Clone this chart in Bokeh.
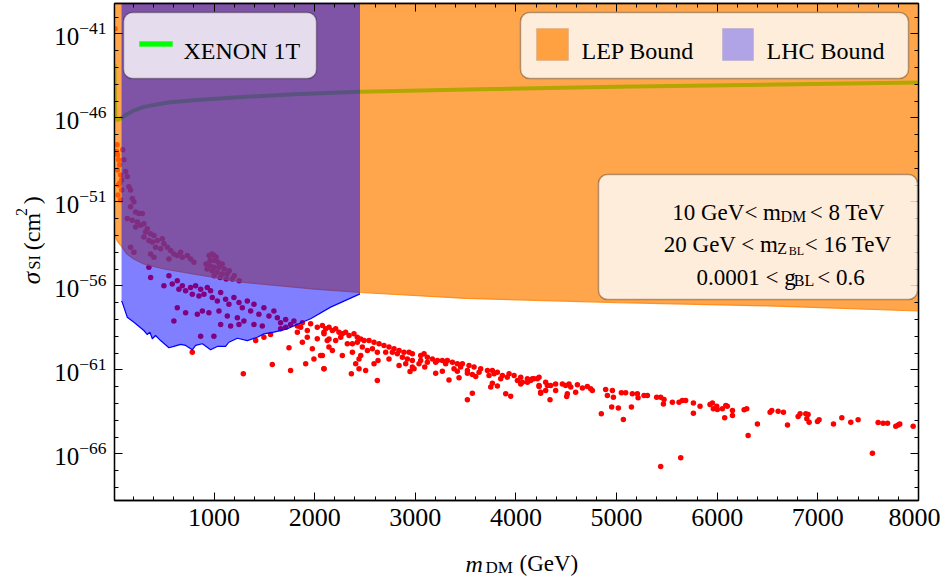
import numpy as np
from bokeh.plotting import figure
from bokeh.layouts import row, column
from bokeh.models import (FixedTicker, Range1d, LinearAxis, LogAxis, BoxAnnotation,
                          Label, CustomJSTickFormatter)
from bokeh.embed import file_html
from bokeh.resources import INLINE

FONT = "Liberation Serif"

# ---------------- data (m_DM in GeV, log10 of sigma_SI in cm^2) ----------------
x_ticks = [1000, 2000, 3000, 4000, 5000, 6000, 7000, 8000]
y_tick_exponents = [-41, -46, -51, -56, -61, -66]

# XENON 1T limit
xenon_m = [10, 12, 15, 20, 30, 50, 80, 130, 200, 300, 540, 800, 1200, 1800, 2450, 3640, 5000, 8000]
xenon_log = [-42.8, -44.2, -45.3, -45.9, -46.15, -46.1, -46.0, -45.8, -45.57, -45.35, -45.09,
             -44.95, -44.79, -44.6, -44.45, -44.3, -44.15, -43.9]

# LEP bound: excluded region above this curve
lep_m = [10, 25, 50, 80, 130, 200, 300, 500, 800, 1300, 2000, 2450, 3500, 5000, 6500, 8000]
lep_log = [-52.7, -53.2, -53.45, -53.65, -54.1, -54.4, -54.7, -55.0, -55.3, -55.8, -56.2, -56.4,
           -56.75, -57.0, -57.2, -57.5]

# LHC bound: excluded region above this curve for 80 GeV < m_DM < 2450 GeV
lhc_m = [80, 87, 103, 137, 203, 302, 336, 362, 386, 418, 468, 551, 600, 667, 717, 783, 816, 883,
         965, 1032, 1114, 1147, 1231, 1330, 1429, 1495, 1594, 1728, 1959, 2158, 2450]
lhc_log = [-56.9, -56.98, -57.27, -57.87, -58.17, -58.66, -58.90, -58.76, -59.15, -58.96, -59.26,
           -59.69, -59.61, -59.49, -59.55, -59.81, -59.55, -59.45, -59.81, -59.61, -59.61, -59.36,
           -59.12, -59.26, -59.06, -58.86, -58.76, -58.56, -57.96, -57.27, -56.48]

# scan points (m_DM, log10 sigma)
pts_low = [(15, -40.7), (35, -47.6), (30, -48.0), (91, -47.9), (41, -48.2), (51, -48.5), (61, -48.8),
           (41, -49.1), (71, -49.4), (81, -49.7), (51, -50.0), (60, -49.9), (81, -50.3), (45, -50.6),
           (70, -50.9)]
pts_upper = [(103, -48.5), (120, -49.2), (137, -49.5), (153, -50.1), (170, -50.3), (187, -50.8),
             (203, -51.0), (170, -51.3), (220, -51.6), (252, -51.7), (286, -51.7), (137, -52.0),
             (187, -52.1), (237, -52.2), (269, -52.4), (302, -52.3), (336, -52.6), (220, -52.5),
             (319, -52.8), (369, -52.9), (402, -53.0), (302, -53.1), (352, -53.3), (386, -53.4),
             (435, -53.3), (485, -53.2), (501, -53.5), (418, -53.7), (468, -53.8), (535, -53.7),
             (568, -53.9), (170, -53.7), (203, -54.0), (369, -54.1), (402, -54.3), (600, -54.1),
             (634, -54.2), (667, -54.0), (684, -54.3), (734, -54.2), (766, -54.4), (551, -54.4),
             (799, -54.6), (352, -54.9)]
pts_cluster = [(950, -54.2), (980, -54.1), (1000, -54.2), (1020, -54.3), (960, -54.5), (1000, -54.5),
               (1040, -54.6), (1080, -54.7), (920, -54.7), (960, -54.8), (1000, -54.9), (1050, -54.9),
               (1100, -55.0), (1150, -55.1), (930, -55.0), (980, -55.1), (1030, -55.2), (1080, -55.3),
               (1130, -55.3), (1200, -55.4), (1000, -55.4), (1060, -55.5), (1120, -55.6),
               (1180, -55.6), (1250, -55.7)]
pts_mid = [(369, -55.5), (501, -56.0), (551, -55.4), (584, -55.9), (634, -55.7), (650, -56.2),
           (684, -56.0), (717, -56.3), (766, -56.1), (783, -56.5), (816, -56.0), (849, -56.6),
           (866, -56.2), (899, -56.5), (932, -56.1), (965, -56.3), (982, -56.7), (1032, -56.9),
           (1065, -56.4), (1114, -56.8), (1147, -57.1), (1197, -56.7), (1247, -57.0), (1280, -57.3),
           (1330, -56.9), (1363, -57.5), (1396, -57.1), (1445, -57.7), (1495, -57.3), (1545, -57.8),
           (1594, -57.5), (1628, -57.9), (1661, -58.2), (1711, -58.0), (1760, -58.3), (1793, -58.1),
           (1827, -58.4), (1877, -58.2), (634, -57.3), (717, -57.6), (833, -57.7), (883, -57.5),
           (948, -57.6), (1048, -57.5), (1131, -57.8), (1231, -57.9), (1296, -58.1), (1396, -58.3),
           (1479, -58.4), (600, -58.1), (1065, -58.3), (1164, -58.4), (1247, -58.3), (866, -59.0),
           (998, -59.0)]
pts_knee = [(783, -59.95), (1413, -59.26), (1495, -59.06), (1561, -58.9), (1744, -59.69),
            (1578, -60.68), (1760, -61.04), (1290, -61.24), (1877, -59.36), (1910, -60.64),
            (1992, -60.35), (1976, -59.75), (2058, -60.15), (2091, -60.94), (1827, -58.76),
            (1926, -58.66), (1959, -58.26), (2025, -58.46), (2091, -58.76), (2124, -59.26),
            (2025, -59.15), (2141, -59.65), (1926, -59.06), (1860, -58.46), (1661, -58.56),
            (1711, -58.46)]
pts_band = [(2076, -58.36), (2109, -58.56), (2142, -58.46), (2175, -58.66), (2208, -58.56),
            (2241, -58.76), (2274, -58.86), (2307, -58.76), (2341, -58.96), (2390, -58.86),
            (2423, -59.06), (2457, -59.16), (2490, -59.26), (2539, -59.26), (2589, -59.36),
            (2639, -59.45), (2688, -59.55), (2738, -59.65), (2788, -59.75), (2838, -59.85),
            (2887, -59.95), (2937, -59.95), (2970, -60.05), (3053, -60.15), (3086, -60.05),
            (3119, -60.25), (3169, -60.35), (3219, -60.45), (3268, -60.45), (3318, -60.45),
            (3368, -60.55), (3417, -60.64), (3467, -60.64), (3533, -60.74), (3583, -60.84),
            (3649, -60.94), (3716, -61.04), (3765, -61.04), (3815, -61.14), (3865, -61.34),
            (3931, -61.24), (3981, -61.34), (4047, -61.44), (4113, -61.54), (4179, -61.54),
            (4229, -61.44),
            (2092, -58.86), (2142, -59.16), (2208, -59.26), (2258, -59.06), (2324, -59.45),
            (2374, -59.45), (2423, -59.36), (2473, -59.65), (2523, -59.85), (2573, -59.75),
            (2622, -59.95), (2705, -59.95), (2771, -59.95), (2821, -60.05), (2871, -60.25),
            (2920, -60.35), (2970, -60.45), (3053, -60.45), (3119, -60.55), (3202, -60.55),
            (3301, -60.64), (3384, -60.94), (3450, -60.84), (3517, -61.04), (3633, -61.14),
            (3732, -61.34), (3782, -61.24), (3848, -61.54), (3914, -61.44), (4014, -61.64),
            (4063, -61.74), (4146, -61.64)]
pts_band_low = [(2076, -60.15), (2092, -60.94), (2175, -59.85), (2274, -60.15), (2374, -59.95),
                (2407, -60.64), (2440, -60.35), (2457, -60.15), (2506, -61.04), (2440, -60.94),
                (2364, -61.24), (2589, -60.64), (2622, -61.64), (2629, -60.45), (2738, -60.35),
                (2838, -60.74), (2904, -60.64), (2947, -61.10), (2970, -60.84), (2987, -60.94),
                (3036, -60.64), (3093, -60.84), (3202, -61.20), (3268, -61.08), (3334, -61.60),
                (3417, -61.08), (3434, -61.48), (3517, -61.20), (3566, -61.28), (3600, -61.40),
                (3566, -62.39), (3517, -62.79), (3749, -62.03), (3765, -61.80), (3815, -61.97),
                (3898, -62.43), (3947, -62.57), (4047, -61.84), (4113, -61.74), (4229, -61.99),
                (4245, -62.39)]
pts_heavy = [(4163, -61.54), (4212, -61.54), (4229, -61.94), (4245, -62.33), (4295, -61.74),
             (4312, -61.94), (4295, -62.23), (4345, -61.94), (4394, -61.84), (4394, -62.23),
             (4338, -62.79), (4461, -61.84), (4494, -61.94), (4527, -61.84), (4544, -62.03),
             (4510, -62.43), (4504, -62.59), (4593, -62.33), (4610, -61.89), (4660, -62.09),
             (4709, -61.99), (4742, -62.13), (4759, -62.23), (4848, -63.62), (4891, -62.17),
             (4958, -62.23), (4908, -62.53), (4968, -62.63), (4951, -63.22), (5017, -63.28),
             (5067, -63.96), (5047, -62.37), (5090, -62.37), (5147, -63.22), (5156, -62.43),
             (5206, -62.43), (5213, -62.67), (5272, -62.53), (5306, -62.53), (5398, -62.63),
             (5438, -62.63), (5471, -62.77), (5465, -63.03), (5554, -62.93), (5620, -62.93),
             (5653, -62.83), (5686, -62.83), (5763, -62.97), (5763, -63.58), (5829, -63.17),
             (5928, -63.07), (5952, -62.97), (5961, -63.32), (5995, -63.17), (6001, -63.36),
             (6051, -63.32), (6074, -63.86), (6100, -63.17), (5637, -66.24), (5438, -66.76)]
pts_tail = [(6085, -63.13), (6151, -63.42), (6151, -63.72), (6267, -63.38), (6293, -63.32),
            (6307, -64.91), (6399, -64.22), (6525, -63.52), (6542, -63.42), (6605, -63.46),
            (6658, -63.52), (6698, -64.28), (6804, -63.78), (6823, -63.62), (6880, -63.62),
            (6903, -63.66), (6890, -63.92), (6913, -64.12), (6996, -64.08), (7012, -63.98),
            (7155, -64.22), (7238, -63.86), (7327, -64.12), (7400, -63.98), (7542, -65.96),
            (7599, -64.14), (7648, -64.18), (7692, -64.18), (7774, -64.36), (7798, -64.28),
            (7814, -64.22), (7947, -64.36)]

legend_names = ["XENON 1T", "LEP Bound", "LHC Bound"]

# ---------------- page geometry (absolute page px) ----------------
W, H = 940, 576
YL_W = 45            # width of the strip holding the rotated y title
XL_H = 36            # height of the strip holding the x title
X0, X1, FL, FR = 10.0, 8000.0, 114.0, 918.0
FT, FB = 3.0, 500.0
def X(sx):
    return X0 + (sx - FL) * (X1 - X0) / (FR - FL)
def Y(sy):
    return 10.0 ** (-41.0 - (sy - 33.3) / 16.8)

all_pts = (pts_low + pts_upper + pts_cluster + pts_mid + pts_knee + pts_band + pts_band_low
           + pts_heavy + pts_tail)
pm = np.array([a for a, b in all_pts], dtype=float)
ps = 10.0 ** np.array([b for a, b in all_pts], dtype=float)

TOP = 1e-38
main = figure(width=W - YL_W, height=H - XL_H, y_axis_type="log",
              x_range=Range1d(X0, X1), y_range=Range1d(Y(FB), Y(FT)),
              output_backend="svg", toolbar_location=None,
              min_border_left=int(FL) - YL_W, min_border_right=W - int(FR), min_border_top=int(FT),
              min_border_bottom=H - XL_H - int(FB),
              background_fill_color="white", border_fill_color="white")
main.outline_line_color = "black"
main.outline_line_width = 1.3
main.grid.visible = False

# scatter points (below the shaded bounds)
main.scatter(pm, ps, size=5.5, marker="circle", fill_color="#FF0000", line_color=None)

# XENON 1T line
main.line(xenon_m, [10.0 ** v for v in xenon_log], line_color="#00FF00", line_width=4)

# LEP bound
lep_s = [10.0 ** v for v in lep_log]
main.patch(lep_m + [lep_m[-1], lep_m[0]], lep_s + [TOP, TOP], fill_color="#FF8000",
           fill_alpha=0.7, line_color=None)
main.line(lep_m, lep_s, line_color="#FF8000", line_alpha=0.8, line_width=1.2)

# LHC bound
lhc_s = [10.0 ** v for v in lhc_log]
main.patch([lhc_m[0]] + lhc_m + [lhc_m[-1]], [TOP] + lhc_s + [TOP], fill_color="#0000FF",
           fill_alpha=0.5, line_color=None)
main.line(lhc_m, lhc_s, line_color="#0000FF", line_width=1.2)

# axes
xticker = FixedTicker(ticks=x_ticks, minor_ticks=list(range(200, 8001, 200)))
yticker = FixedTicker(ticks=[10.0 ** e for e in y_tick_exponents],
                      minor_ticks=[10.0 ** e for e in range(-70, -37)])
for ax in (main.xaxis[0], main.yaxis[0]):
    ax.major_tick_in = 8
    ax.major_tick_out = 0
    ax.minor_tick_in = 4
    ax.minor_tick_out = 0
    ax.axis_line_width = 1.3
    ax.major_label_text_font = FONT
    ax.major_label_text_color = "black"
main.xaxis[0].ticker = xticker
main.yaxis[0].ticker = yticker
main.xaxis[0].major_label_text_font_size = "26px"
main.yaxis[0].major_label_text_font_size = "25px"
main.xaxis[0].major_label_standoff = 8
main.yaxis[0].major_label_standoff = 8

blank = CustomJSTickFormatter(code="return ''")
top_ax = LinearAxis(ticker=xticker, formatter=blank, major_label_text_font_size="1px",
                    major_label_standoff=0, major_tick_in=8, major_tick_out=0, minor_tick_in=4,
                    minor_tick_out=0, axis_line_width=1.3)
main.add_layout(top_ax, "above")
right_ax = LogAxis(ticker=yticker, formatter=blank, major_label_text_font_size="1px",
                   major_label_standoff=0, major_tick_in=8, major_tick_out=0, minor_tick_in=4,
                   minor_tick_out=0, axis_line_width=1.3)
main.add_layout(right_ax, "right")

def box(l, r, t, b, fill, alpha, line="black", lw=1.5, radius=0):
    main.add_layout(BoxAnnotation(left=X(l), right=X(r), top=Y(t), bottom=Y(b), fill_color=fill,
                                  fill_alpha=alpha, line_color=line, line_width=lw,
                                  border_radius=radius))

def txt(sx, sy, s, size, style="normal"):
    main.add_layout(Label(x=X(sx), y=Y(sy), text=s, text_font=FONT, text_font_size=size,
                          text_font_style=style, text_color="black", text_baseline="alphabetic",
                          text_align="left"))

# legend 1: XENON 1T
box(123, 316, 12, 78, "white", 0.8, radius=9)
box(139, 172, 41, 46, "#00FF00", 1.0, line="#00FF00", lw=1)
txt(183, 50, legend_names[0], "24px")

# legend 2: LEP / LHC
box(520, 908, 12, 78, "white", 0.8, radius=9)
box(536, 568, 28, 60, "#FF8000", 0.7, line="#B09A88", lw=1)
box(722, 753, 28, 60, "#0000FF", 0.31, line="#9A94B8", lw=1)
txt(581, 50, legend_names[1], "24px")
txt(766, 50, legend_names[2], "24px")

# parameter box
box(598, 917, 174, 299, "white", 0.8, radius=9)
txt(671.7, 212, "10 GeV< m", "23px")
txt(780, 216, "DM", "16px")
txt(809.3, 212, "< 8 TeV", "23px")
txt(663.3, 244, "20 GeV < m", "23px")
txt(776.7, 247.5, "Z", "16px")
txt(788.3, 250.5, "BL", "12px")
txt(804.3, 244, "< 16 TeV", "23px")
txt(696, 276.7, "0.0001 < g", "23px")
txt(793.3, 280, "BL", "16px")
txt(816.7, 276.7, "< 0.6", "23px")

# ---------------- axis titles in their own text strips ----------------
def strip(w, h, x0, y0):
    f = figure(width=w, height=h, x_range=Range1d(x0, x0 + w), y_range=Range1d(y0 + h, y0),
               output_backend="svg", toolbar_location=None, x_axis_location=None,
               y_axis_location=None, min_border=0, background_fill_color="white",
               border_fill_color="white")
    f.outline_line_color = None
    f.grid.visible = False
    return f

def stxt(f, sx, sy, s, size, style="normal", angle=0.0):
    f.add_layout(Label(x=sx, y=sy, text=s, text_font=FONT, text_font_size=size,
                       text_font_style=style, text_color="black", text_baseline="alphabetic",
                       text_align="left", angle=angle))

yfig = strip(YL_W, H - XL_H, 0, 0)
a = np.pi / 2
stxt(yfig, 31, 305, "σ", "25px", style="italic", angle=a)
stxt(yfig, 34, 289, "SI", "16px", angle=a)
stxt(yfig, 31, 268, "(cm", "24px", angle=a)
stxt(yfig, 21, 231, "2", "16px", angle=a)
stxt(yfig, 31, 218, ")", "24px", angle=a)

xfig = strip(W, XL_H, 0, H - XL_H)
stxt(xfig, 465, 563, "m", "24px", style="italic")
stxt(xfig, 485, 567, "DM", "17px")
stxt(xfig, 519, 563, "(GeV)", "23px")

p = column(row(yfig, main, spacing=0), xfig, spacing=0)

open("out.html", "w").write(file_html(p, INLINE))
